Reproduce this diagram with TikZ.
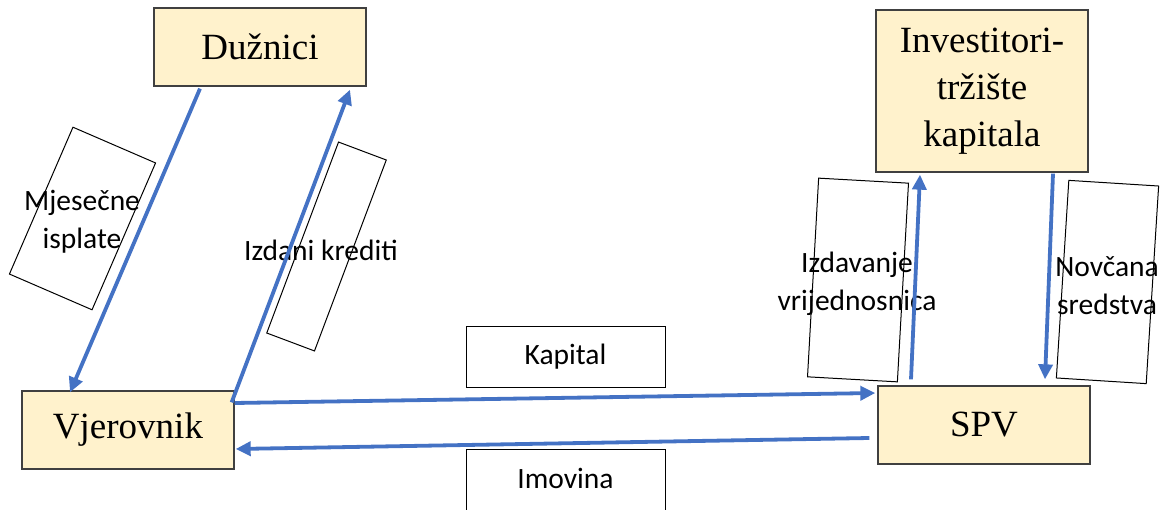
\documentclass[tikz,border=0pt]{standalone}
\usepackage{fontspec}
\setmainfont{Liberation Serif}
\newfontfamily\lblfont{Carlito}
\usepackage{tikz}
\usetikzlibrary{calc}
\usetikzlibrary{arrows.meta}
\usetikzlibrary{positioning}
\definecolor{boxfill}{HTML}{FFF2CC}
\definecolor{flowblue}{HTML}{4472C4}
\tikzstyle{party} = [rectangle, draw=black!75, fill=boxfill, line width=1.3pt, minimum width=212, minimum height=78, inner sep=0, align=center, font=\fontsize{37}{47}\selectfont]
\tikzstyle{lbl} = [rectangle, draw=black, line width=1pt, inner sep=0]
\tikzstyle{lbltxt} = [draw=none, inner sep=0, align=center, font=\lblfont\fontsize{29.5}{38}\selectfont]
\tikzstyle{flow} = [-{Triangle[length=15pt, width=14pt]}, draw=flowblue, line width=3.8pt]

\begin{document}
\begin{tikzpicture}[x=1pt, y=-1pt]
\useasboundingbox (0, 0) rectangle (1161, 510);
\clip (0, 0) rectangle (1161, 510);
% parties
\node [party] (D) at (260, 47) {Dužnici};
\node [party] (V) at (128, 430) {Vjerovnik};
\node [party] (S) at (984, 425) {SPV};
\node [party, minimum height=162] (I) at (982, 91) {Investitori-\\tržište\\kapitala};
% label boxes
\node [lbl, minimum width=90, minimum height=160, rotate=-23.4] (Mb) at (82.5, 218.5) {};
\node [lbltxt] (Mt) at (82, 222) {Mjesečne\\isplate};
\node [lbl, minimum width=51, minimum height=204, rotate=-20.6] (Kb) at (326.5, 246.5) {};
\node [lbltxt] (Kt) at (321, 250) {Izdani krediti};
\node [lbl, minimum width=90, minimum height=199, rotate=-3.2] (Vb) at (858, 280) {};
\node [lbltxt] (Vt) at (857, 284) {Izdavanje\\vrijednosnica};
\node [lbl, minimum width=90, minimum height=198, rotate=-3.6] (Nb) at (1107.5, 282) {};
\node [lbltxt] (Nt) at (1107, 286) {Novčana\\sredstva};
\node [lbl, minimum width=199, minimum height=60] (Cb) at (565.5, 357) {};
\node [lbltxt] (Ct) at (565.5, 357) {Kapital};
\node [lbl, minimum width=199, minimum height=80, anchor=north] (Ab) at (565.5, 449) {};
\node [lbltxt] (At) at (565.5, 478) {Imovina};
% flows
\draw [flow] ($(D.south)+(-60, 2)$) to ($(V.north)+(-58, 2)$);
\draw [flow] ($(V.north east)+(-3, 12)$) to ($(D.south)+(90, 3)$);
\draw [flow] ($(V.east)+(0, -27)$) to ($(S.west)+(-2, -32)$);
\draw [flow] ($(S.west)+(-8, 13)$) to ($(V.east)+(1, 19)$);
\draw [flow] ($(S.north)+(-73, -6)$) to ($(I.south)+(-62, 2)$);
\draw [flow] ($(I.south)+(71, 1)$) to ($(S.north)+(61, -6)$);
\end{tikzpicture}
\end{document}
